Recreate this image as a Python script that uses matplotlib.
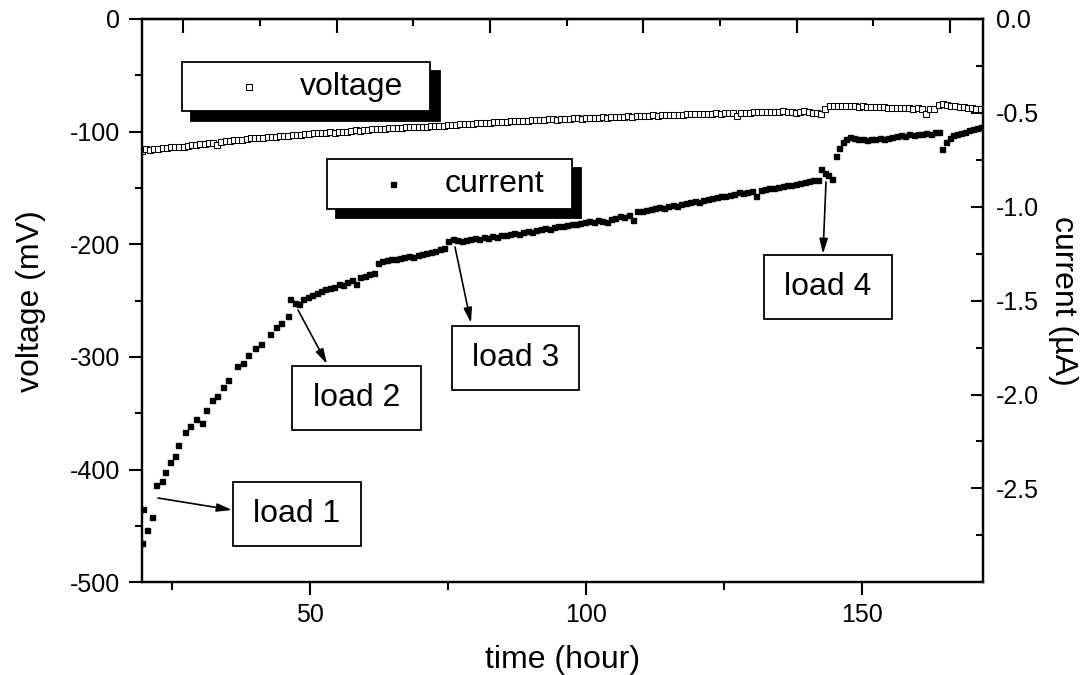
import numpy as np
import matplotlib
matplotlib.use("Agg")
import matplotlib.pyplot as plt
from matplotlib.patches import Rectangle
from matplotlib.ticker import MultipleLocator, FixedLocator, FormatStrFormatter

plt.rcParams['font.family'] = ['Liberation Sans', 'DejaVu Sans']
plt.rcParams['axes.unicode_minus'] = False

# voltage (mV), sampled every ~0.76 h from 19.5 h to 171.5 h
volt_mv = [
    -117.0, -115.5, -116.3, -115.2, -115.6, -114.6, -114.9, -114.0, -113.8, -113.2,
    -113.4, -112.5, -112.2, -111.6, -111.1, -110.8, -110.2, -109.9, -112.0, -109.2,
    -108.7, -108.4, -107.8, -107.3, -107.0, -106.6, -106.0, -105.9, -105.4, -105.2,
    -104.9, -104.4, -104.6, -104.0, -103.7, -103.9, -103.3, -102.8, -102.6, -102.1,
    -101.9, -101.6, -101.3, -101.5, -100.9, -100.7, -100.9, -100.4, -100.3, -100.2,
    -99.4, -98.8, -99.1, -98.4, -98.6, -97.9, -97.7, -98.0, -97.3, -97.0,
    -96.8, -96.5, -96.7, -96.2, -96.0, -96.3, -95.7, -95.5, -95.6, -95.3,
    -95.0, -94.6, -94.8, -94.1, -93.8, -94.0, -93.5, -93.2, -93.4, -92.8,
    -92.6, -92.3, -92.5, -91.9, -91.6, -91.8, -91.2, -91.0, -90.7, -90.9,
    -90.4, -90.1, -90.3, -89.9, -89.6, -89.8, -89.4, -89.2, -89.0, -89.3,
    -88.8, -88.6, -88.8, -88.3, -88.1, -88.4, -87.9, -87.7, -87.9, -87.5,
    -87.3, -87.5, -87.0, -86.8, -87.0, -86.6, -86.4, -86.6, -86.2, -86.0,
    -86.2, -85.8, -85.6, -85.8, -85.4, -85.2, -85.4, -85.0, -84.8, -85.0,
    -84.6, -84.4, -84.7, -84.3, -84.1, -84.3, -83.9, -83.8, -84.0, -83.6,
    -83.5, -83.7, -86.5, -83.2, -83.0, -83.3, -82.9, -82.7, -82.9, -82.5,
    -82.4, -82.6, -82.2, -82.1, -82.4, -82.6, -83.0, -82.3, -81.8, -82.4,
    -83.0, -83.6, -84.0, -79.5, -77.2, -76.8, -77.3, -77.0, -77.2, -77.6,
    -77.4, -77.8, -77.6, -78.0, -78.3, -78.1, -78.5, -78.3, -78.7, -78.9,
    -78.8, -79.1, -79.0, -79.3, -79.6, -79.4, -79.8, -84.5, -80.2, -80.0,
    -76.5, -75.6, -76.2, -77.0, -77.4, -77.8, -78.4, -78.8, -79.2, -79.6,
    -80.0,
]
volt_t = np.linspace(19.5, 171.5, len(volt_mv))

# current (uA): early sparse points, then evenly sampled stretches between loads
curr_t_early = [19.6, 19.8, 20.5, 21.4,
                22.1, 23.1, 23.7, 24.6, 25.5, 26.1, 27.3, 28.2, 29.3, 30.4, 31.1, 32.2,
                33.1, 34.2, 35.2, 36.7, 37.8, 38.8, 40.0, 41.2, 42.7, 43.9, 44.8, 46.0]
curr_early = [-2.79, -2.61, -2.72, -2.65,
              -2.48, -2.46, -2.41, -2.36, -2.33, -2.27, -2.20, -2.17, -2.13, -2.15, -2.08, -2.03,
              -2.01, -1.96, -1.92, -1.85, -1.83, -1.79, -1.75, -1.73, -1.68, -1.64, -1.62, -1.58]

curr_mid = [
    -1.49, -1.51, -1.52, -1.49, -1.48, -1.47, -1.46, -1.45, -1.44, -1.43,
    -1.425, -1.41, -1.415, -1.40, -1.39, -1.41, -1.375, -1.37, -1.36, -1.355,
    -1.30, -1.29, -1.285, -1.28, -1.28, -1.275, -1.27, -1.26, -1.265, -1.255,
    -1.25, -1.245, -1.24, -1.235, -1.225, -1.22, -1.18, -1.17, -1.175, -1.18,
    -1.175, -1.17, -1.165, -1.17, -1.16, -1.165, -1.155, -1.16, -1.15, -1.15,
    -1.145, -1.14, -1.145, -1.135, -1.13, -1.135, -1.125, -1.12, -1.115, -1.12,
    -1.11, -1.105, -1.10, -1.095, -1.09, -1.09, -1.085, -1.08, -1.075, -1.08,
    -1.07, -1.075, -1.08, -1.065, -1.06, -1.05, -1.055, -1.045, -1.07, -1.025,
    -1.02, -1.015, -1.01, -1.005, -1.0, -1.005, -0.995, -0.99, -0.995, -0.985,
    -0.98, -0.975, -0.97, -0.975, -0.965, -0.96, -0.955, -0.95, -0.945, -0.94,
    -0.935, -0.93, -0.92, -0.925, -0.92, -0.915, -0.94, -0.91, -0.905, -0.90,
    -0.90, -0.895, -0.89, -0.885, -0.885, -0.88, -0.875, -0.87, -0.865, -0.86,
    -0.855,
]
curr_t_mid = np.linspace(46.4, 142.0, len(curr_mid))

curr_t_load4 = [142.6, 143.3, 143.9, 144.6, 145.3, 145.9, 146.5, 147.2, 147.9]
curr_load4 = [-0.80, -0.82, -0.83, -0.85, -0.73, -0.685, -0.655, -0.64, -0.63]

curr_late = [-0.635, -0.64, -0.64, -0.645, -0.64, -0.64, -0.635, -0.64, -0.635, -0.63,
             -0.625, -0.62, -0.625, -0.615, -0.62, -0.61, -0.61, -0.605, -0.61, -0.60,
             -0.60]
curr_t_late = np.linspace(148.6, 164.0, len(curr_late))

curr_t_end = [164.5, 165.2, 165.9, 166.6, 167.3, 168.0, 168.7, 169.4, 170.1, 170.8, 171.5]
curr_end = [-0.69, -0.655, -0.635, -0.62, -0.615, -0.605, -0.60, -0.59, -0.585, -0.58, -0.575]

curr_t = np.concatenate([curr_t_early, curr_t_mid, curr_t_load4, curr_t_late, curr_t_end])
curr_ua = np.concatenate([curr_early, curr_mid, curr_load4, curr_late, curr_end])

load_labels = ["load 1", "load 2", "load 3", "load 4"]

W, H = 1089, 675
fig = plt.figure(figsize=(W / 100, H / 100), dpi=100)
ax = fig.add_axes([141.7 / W, 1 - 582.3 / H, (983.3 - 141.7) / W, (582.3 - 19) / H])

ax.plot(volt_t, volt_mv, ls='none', marker='s', ms=4.0, mfc='white', mec='black', mew=0.75)
ax.set_xlim(19.5, 172)
ax.set_ylim(-500, 0)
ax.xaxis.set_major_locator(FixedLocator([50, 100, 150]))
ax.xaxis.set_minor_locator(FixedLocator([25, 75, 125]))
ax.yaxis.set_major_locator(MultipleLocator(100))
ax.yaxis.set_minor_locator(MultipleLocator(50))
ax.tick_params(which='both', direction='out', width=1.5, labelsize=18, right=False, top=False)
ax.tick_params(axis='y', which='major', length=9.5, pad=6)
ax.tick_params(axis='y', which='minor', length=5)
ax.tick_params(axis='x', which='major', length=9, pad=6)
ax.tick_params(axis='x', which='minor', length=6)
ax.set_xlabel("time (hour)", fontsize=23, labelpad=13)
ax.set_ylabel("voltage (mV)", fontsize=23, labelpad=17)
for s in ax.spines.values():
    s.set_linewidth(1.6)

ax2 = ax.twinx()
ax2.plot(curr_t, curr_ua, ls='none', marker='s', ms=3.6, color='black')
ax2.set_ylim(-3.0, 0.0)
ax2.yaxis.set_major_locator(FixedLocator([0.0, -0.5, -1.0, -1.5, -2.0, -2.5]))
ax2.yaxis.set_minor_locator(FixedLocator([-0.25, -0.75, -1.25, -1.75, -2.25, -2.75]))
ax2.yaxis.set_major_formatter(FormatStrFormatter('%.1f'))
ax2.tick_params(which='both', direction='in', width=1.5, labelsize=18, pad=9)
ax2.tick_params(which='major', length=8.4)
ax2.tick_params(which='minor', length=4.8)
ax2.set_ylabel("current (µA)", fontsize=23, rotation=270, labelpad=28)
for s in ax2.spines.values():
    s.set_linewidth(1.6)

# unlabeled top axis with its own tick spacing
top = ax.secondary_xaxis('top')
top.xaxis.set_major_locator(FixedLocator([27.0, 54.8, 82.6, 110.4, 138.2, 166.0]))
top.xaxis.set_minor_locator(FixedLocator([40.9, 68.7, 96.5, 124.3, 152.1]))
top.tick_params(which='both', direction='in', width=1.5, labeltop=False)
top.tick_params(which='major', length=10)
top.tick_params(which='minor', length=5)
top.spines['top'].set_linewidth(1.6)


def fx(px):
    return px / W


def fy(py):
    return 1 - py / H


def box(x0, y0, x1, y1, color='white', z=5):
    fig.add_artist(Rectangle((fx(x0), fy(y1)), fx(x1) - fx(x0), fy(y0) - fy(y1),
                             transform=fig.transFigure, fc=color, ec='black', lw=1.3, zorder=z))


# legend boxes with drop shadow
box(191, 71, 440, 121, color='black', z=4)
box(182, 62, 430, 111)
fig.add_artist(plt.Line2D([fx(249)], [fy(87)], marker='s', ms=4.0, mfc='white', mec='black',
                          mew=0.75, transform=fig.transFigure, zorder=6))
fig.text(fx(300), fy(87), "voltage", fontsize=23, va='center', ha='left', zorder=6)

box(336, 168, 581, 218, color='black', z=4)
box(327, 159, 572, 209)
fig.add_artist(plt.Line2D([fx(393)], [fy(184)], marker='s', ms=3.6, color='black',
                          transform=fig.transFigure, zorder=6))
fig.text(fx(445), fy(184), "current", fontsize=23, va='center', ha='left', zorder=6)

# load boxes and arrows
load_boxes = [(233, 482, 361, 546), (292, 366, 421, 430), (452, 326, 579, 390), (764, 255, 892, 319)]
load_arrows = [((158, 498), (232, 510)), ((298, 310), (327, 364)),
               ((455, 247), (471, 323)), ((826, 182), (823, 254))]
for lab, (x0, y0, x1, y1), (p0, p1) in zip(load_labels, load_boxes, load_arrows):
    box(x0, y0, x1, y1)
    fig.text(fx((x0 + x1) / 2), fy((y0 + y1) / 2), lab, fontsize=23, ha='center', va='center', zorder=6)
    ax2.annotate("", xy=(fx(p1[0]), fy(p1[1])), xytext=(fx(p0[0]), fy(p0[1])),
                 xycoords='figure fraction', textcoords='figure fraction',
                 arrowprops=dict(arrowstyle='-|>,head_length=0.9,head_width=0.25', color='black',
                                 lw=1.2, shrinkA=0, shrinkB=0), zorder=7)

fig.savefig("out.png", dpi=100)
